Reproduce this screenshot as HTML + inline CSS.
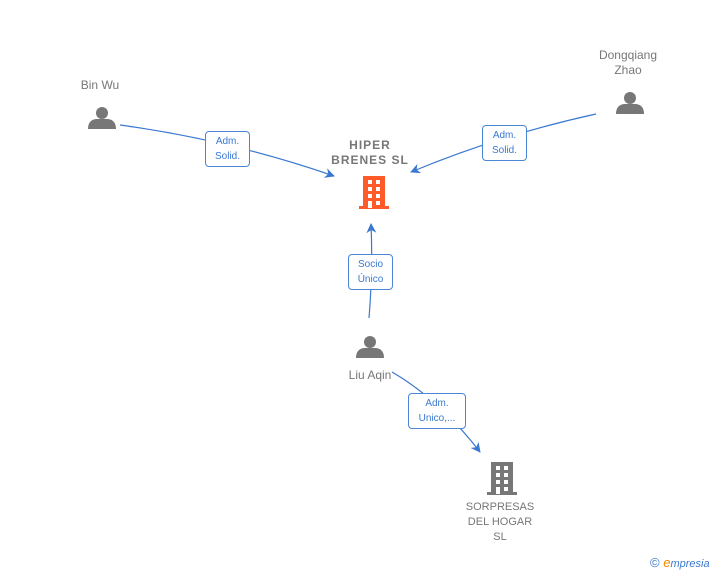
<!DOCTYPE html>
<html><head><style>
body{margin:0;width:728px;height:575px;background:#fff;position:relative;overflow:hidden;font-family:"Liberation Sans",sans-serif}
.t{position:absolute;color:#777;font-size:12px;text-align:center;line-height:15px}
.b{position:absolute;border:1px solid #4a86d6;border-radius:4px;background:#fff;color:#3a78d0;font-size:10px;text-align:center;line-height:15px;padding:2px 0}
</style></head><body>
<svg width="728" height="575" style="position:absolute;left:0;top:0">
<defs><marker id="a" markerWidth="10" markerHeight="10" refX="9" refY="5" orient="auto" markerUnits="userSpaceOnUse"><path d="M0,0 L10,5 L0,10 L3,5 Z" fill="#3a78d0"/></marker>
<g id="p"><circle cx="0" cy="-7" r="6" fill="#777"/><path d="M-14,9 Q-14,0 -6,-1 L6,-1 Q14,0 14,9 Z" fill="#777"/></g>
<g id="bld"><rect x="-11" y="-16" width="22" height="32"/><rect x="-15" y="14" width="30" height="3"/></g>
</defs>
<path d="M120,125 Q230,140 334,176" stroke="#3a78d0" stroke-width="1.2" fill="none" marker-end="url(#a)"/>
<path d="M596,114 Q500,135 411,172" stroke="#3a78d0" stroke-width="1.2" fill="none" marker-end="url(#a)"/>
<path d="M369,318 Q373,270 371,224" stroke="#3a78d0" stroke-width="1.2" fill="none" marker-end="url(#a)"/>
<path d="M392,372 Q440,400 480,452" stroke="#3a78d0" stroke-width="1.2" fill="none" marker-end="url(#a)"/>
<use href="#p" x="102" y="120"/>
<use href="#p" x="630" y="105"/>
<use href="#p" x="370" y="349"/>
<g fill="#ff5a2a" transform="translate(374,192)"><use href="#bld"/></g>
<g fill="#fff"><rect x="368" y="180" width="4" height="4"/><rect x="376" y="180" width="4" height="4"/><rect x="368" y="187" width="4" height="4"/><rect x="376" y="187" width="4" height="4"/><rect x="368" y="194" width="4" height="4"/><rect x="376" y="194" width="4" height="4"/><rect x="368" y="201" width="4" height="7"/><rect x="376" y="201" width="4" height="4"/></g>
<g fill="#777" transform="translate(502,478)"><use href="#bld"/></g>
<g fill="#fff"><rect x="496" y="466" width="4" height="4"/><rect x="504" y="466" width="4" height="4"/><rect x="496" y="473" width="4" height="4"/><rect x="504" y="473" width="4" height="4"/><rect x="496" y="480" width="4" height="4"/><rect x="504" y="480" width="4" height="4"/><rect x="496" y="487" width="4" height="7"/><rect x="504" y="487" width="4" height="4"/></g>
</svg>
<div class="t" style="left:60px;top:78px;width:80px">Bin Wu</div>
<div class="t" style="left:580px;top:48px;width:96px">Dongqiang<br>Zhao</div>
<div class="t" style="left:320px;top:138px;width:100px;font-weight:bold;letter-spacing:1px">HIPER<br>BRENES SL</div>
<div class="t" style="left:330px;top:368px;width:80px">Liu Aqin</div>
<div class="t" style="left:450px;top:500px;width:100px;font-size:11px">SORPRESAS<br>DEL HOGAR<br>SL</div>
<div class="b" style="left:205px;top:131px;width:43px">Adm.<br>Solid.</div>
<div class="b" style="left:482px;top:125px;width:43px">Adm.<br>Solid.</div>
<div class="b" style="left:348px;top:254px;width:43px">Socio<br>Único</div>
<div class="b" style="left:408px;top:393px;width:56px">Adm.<br>Unico,...</div>
<div style="position:absolute;left:650px;top:555px;font-size:13px;color:#3a78d0">© <span style="color:#f08a00;font-style:italic">e</span><span style="color:#3a78d0;font-style:italic;font-size:11px">mpresia</span></div>
</body></html>
